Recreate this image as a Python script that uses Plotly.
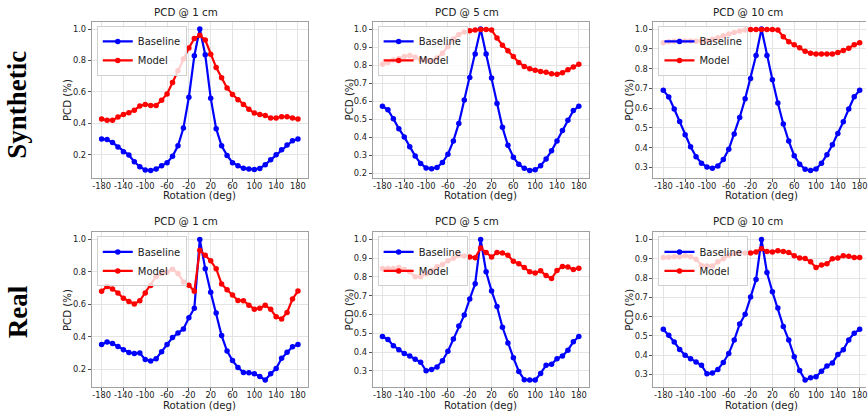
import plotly.graph_objects as go

W, H = 868, 413

rotation = list(range(-180, 181, 10))
x_ticks = [-180, -140, -100, -60, -20, 20, 60, 100, 140, 180]

syn1_baseline = [0.30, 0.297, 0.278, 0.25, 0.22, 0.198, 0.156, 0.124, 0.103, 0.10, 0.11, 0.13, 0.15, 0.19,
                 0.257, 0.37, 0.566, 0.83, 1.0, 0.836, 0.56, 0.366, 0.257, 0.196, 0.15, 0.13, 0.115, 0.11,
                 0.107, 0.113, 0.137, 0.168, 0.20, 0.232, 0.263, 0.29, 0.30]
syn1_model = [0.427, 0.42, 0.42, 0.44, 0.457, 0.467, 0.484, 0.51, 0.52, 0.514, 0.514, 0.547, 0.587, 0.66,
              0.735, 0.81, 0.88, 0.94, 0.96, 0.93, 0.84, 0.756, 0.69, 0.625, 0.583, 0.55, 0.52, 0.49,
              0.465, 0.457, 0.45, 0.434, 0.434, 0.442, 0.442, 0.434, 0.427]

syn5_baseline = [0.572, 0.552, 0.503, 0.448, 0.402, 0.347, 0.296, 0.255, 0.23, 0.226, 0.233, 0.26, 0.306,
                 0.38, 0.477, 0.606, 0.732, 0.862, 1.0, 0.862, 0.728, 0.587, 0.455, 0.356, 0.29, 0.25,
                 0.228, 0.216, 0.22, 0.242, 0.28, 0.325, 0.38, 0.438, 0.495, 0.548, 0.572]
syn5_model = [0.805, 0.815, 0.828, 0.837, 0.848, 0.853, 0.844, 0.83, 0.828, 0.824, 0.84, 0.866, 0.903,
              0.945, 0.97, 0.983, 0.99, 0.995, 0.998, 0.998, 0.995, 0.95, 0.91, 0.88, 0.848, 0.815,
              0.793, 0.78, 0.772, 0.765, 0.76, 0.752, 0.75, 0.758, 0.774, 0.789, 0.805]

syn10_baseline = [0.69, 0.657, 0.596, 0.533, 0.466, 0.405, 0.355, 0.322, 0.303, 0.296, 0.308, 0.34, 0.392,
                  0.469, 0.553, 0.647, 0.75, 0.866, 1.0, 0.866, 0.744, 0.626, 0.52, 0.434, 0.36, 0.317,
                  0.291, 0.285, 0.293, 0.322, 0.365, 0.415, 0.472, 0.531, 0.596, 0.658, 0.69]
syn10_model = [0.931, 0.936, 0.938, 0.94, 0.94, 0.94, 0.938, 0.938, 0.941, 0.948, 0.956, 0.966, 0.975,
               0.982, 0.99, 0.995, 0.997, 0.997, 0.998, 0.998, 0.998, 0.995, 0.961, 0.936, 0.92, 0.905,
               0.888, 0.878, 0.874, 0.874, 0.874, 0.874, 0.881, 0.891, 0.903, 0.92, 0.93]

real1_baseline = [0.352, 0.368, 0.358, 0.34, 0.32, 0.303, 0.297, 0.30, 0.259, 0.25, 0.265, 0.307, 0.352,
                  0.395, 0.423, 0.448, 0.517, 0.576, 1.0, 0.82, 0.675, 0.547, 0.407, 0.312, 0.253, 0.21,
                  0.18, 0.178, 0.172, 0.155, 0.133, 0.172, 0.204, 0.267, 0.305, 0.338, 0.352]
real1_model = [0.681, 0.71, 0.695, 0.67, 0.637, 0.618, 0.602, 0.622, 0.67, 0.716, 0.772, 0.79, 0.80,
               0.817, 0.79, 0.738, 0.718, 0.681, 0.933, 0.903, 0.868, 0.82, 0.726, 0.69, 0.657, 0.624,
               0.622, 0.594, 0.57, 0.576, 0.594, 0.569, 0.523, 0.51, 0.55, 0.633, 0.682]

real5_baseline = [0.483, 0.467, 0.434, 0.413, 0.393, 0.379, 0.362, 0.346, 0.30, 0.307, 0.321, 0.354, 0.404,
                  0.469, 0.539, 0.597, 0.683, 0.764, 1.0, 0.828, 0.726, 0.643, 0.532, 0.448, 0.37, 0.297,
                  0.253, 0.251, 0.251, 0.286, 0.33, 0.335, 0.365, 0.379, 0.41, 0.455, 0.483]
real5_model = [0.845, 0.845, 0.845, 0.85, 0.84, 0.828, 0.802, 0.802, 0.817, 0.836, 0.854, 0.866, 0.887,
               0.90, 0.916, 0.912, 0.907, 0.903, 0.954, 0.93, 0.907, 0.93, 0.928, 0.916, 0.884, 0.871,
               0.85, 0.828, 0.821, 0.833, 0.808, 0.792, 0.835, 0.856, 0.853, 0.84, 0.847]

real10_baseline = [0.534, 0.503, 0.468, 0.43, 0.399, 0.382, 0.365, 0.348, 0.303, 0.307, 0.326, 0.362,
                   0.408, 0.478, 0.561, 0.612, 0.701, 0.792, 1.0, 0.829, 0.729, 0.645, 0.549, 0.478,
                   0.392, 0.32, 0.271, 0.283, 0.288, 0.317, 0.344, 0.36, 0.403, 0.428, 0.479, 0.514, 0.534]
real10_model = [0.906, 0.908, 0.911, 0.911, 0.915, 0.91, 0.898, 0.865, 0.862, 0.862, 0.884, 0.90, 0.918,
                0.927, 0.933, 0.93, 0.93, 0.935, 0.952, 0.938, 0.935, 0.942, 0.937, 0.933, 0.915, 0.904,
                0.901, 0.884, 0.855, 0.867, 0.874, 0.90, 0.904, 0.915, 0.913, 0.906, 0.906]

titles = ["PCD @ 1 cm", "PCD @ 5 cm", "PCD @ 10 cm"]
row_labels = ["Synthetic", "Real"]
series_names = ["Baseline", "Model"]
panels = [
    [(syn1_baseline, syn1_model), (syn5_baseline, syn5_model), (syn10_baseline, syn10_model)],
    [(real1_baseline, real1_model), (real5_baseline, real5_model), (real10_baseline, real10_model)],
]
y_dticks = [0.2, 0.1, 0.1]

# layout geometry (pixels)
col_px = [(92, 308.5), (373.5, 590), (655, 868)]
col_center = [200, 482, 763.5]
col_xrange = [(-198, 198), (-198, 198), (-198, -198 + 396 * (213 / 216.5))]
row_px = [(22, 178), (233, 388)]
ylab_px = [67.5, 350.5, 631.5]
title_px = [12.5, 221.5]
xlab_px = [196, 406]
rowlab_px = [(17, 105), (18, 312)]

FONT = "DejaVu Sans"
colors = ["#0000ff", "#ff0000"]

fig = go.Figure()
annotations = []
layout = {}

for r in range(2):
    for c in range(3):
        k = r * 3 + c + 1
        xa = "xaxis" if k == 1 else f"xaxis{k}"
        ya = "yaxis" if k == 1 else f"yaxis{k}"
        xr = "x" if k == 1 else f"x{k}"
        yr = "y" if k == 1 else f"y{k}"
        lg = "legend" if k == 1 else f"legend{k}"
        base, model = panels[r][c]
        for name, vals, col in zip(series_names, (base, model), colors):
            fig.add_trace(go.Scatter(
                x=rotation, y=vals, name=name, mode="lines+markers",
                line=dict(color=col, width=2.2),
                marker=dict(color=col, size=5.5, symbol="circle"),
                xaxis=xr, yaxis=yr, legend=lg, showlegend=True,
            ))
        allv = list(base) + list(model)
        lo, hi = min(allv), max(allv)
        pad = (hi - lo) * 0.05
        x0, x1 = col_px[c]
        yt, yb = row_px[r]
        axis_common = dict(
            showline=True, linecolor="#a0a0a0", linewidth=1,
            showgrid=True, gridcolor="#e4e4e4", gridwidth=1,
            ticks="outside", ticklen=3, tickcolor="#555555", tickwidth=1,
            tickfont=dict(family=FONT, size=8.3, color="#222222"),
            zeroline=False,
        )
        layout[xa] = dict(
            axis_common, domain=[x0 / W, x1 / W], anchor=yr,
            range=list(col_xrange[c]), tickvals=x_ticks,
            ticktext=[str(t) for t in x_ticks], mirror=True,
            ticklabelstandoff=-3, ticklabeloverflow="allow",
        )
        layout[ya] = dict(
            axis_common, domain=[1 - yb / H, 1 - yt / H], anchor=xr,
            range=[lo - pad, hi + pad], dtick=y_dticks[c], tick0=0,
            tickformat=".1f", mirror=(c < 2),
        )
        layout[lg] = dict(
            x=(x0 + 5) / W, y=1 - (yt + 4) / H, xanchor="left", yanchor="top",
            bgcolor="rgba(255,255,255,0.8)", bordercolor="#d0d0d0", borderwidth=1,
            font=dict(family=FONT, size=10, color="#222222"),
            itemwidth=30, tracegroupgap=0,
        )
        cx = col_center[c]
        annotations.append(dict(
            text=titles[c], x=(cx - 14) / W, y=1 - title_px[r] / H, xref="paper", yref="paper",
            showarrow=False, xanchor="center", yanchor="middle",
            font=dict(family=FONT, size=10.3, color="#222222"),
        ))
        annotations.append(dict(
            text="Rotation (deg)", x=cx / W, y=1 - xlab_px[r] / H, xref="paper", yref="paper",
            showarrow=False, xanchor="center", yanchor="middle",
            font=dict(family=FONT, size=10.2, color="#222222"),
        ))
        annotations.append(dict(
            text="PCD (%)", x=ylab_px[c] / W, y=1 - ((yt + yb) / 2) / H, xref="paper", yref="paper",
            showarrow=False, xanchor="center", yanchor="middle", textangle=-90,
            font=dict(family=FONT, size=10.2, color="#222222"),
        ))

for (lx, ly), lab in zip(rowlab_px, row_labels):
    annotations.append(dict(
        text=f"<b>{lab}</b>", x=lx / W, y=1 - ly / H, xref="paper", yref="paper",
        showarrow=False, xanchor="center", yanchor="middle", textangle=-90,
        font=dict(family="Liberation Serif", size=27, color="#000000"),
    ))

fig.update_layout(
    width=W, height=H, margin=dict(l=0, r=0, t=0, b=0),
    paper_bgcolor="white", plot_bgcolor="white",
    annotations=annotations, **layout,
)

fig.write_html("out.html")
